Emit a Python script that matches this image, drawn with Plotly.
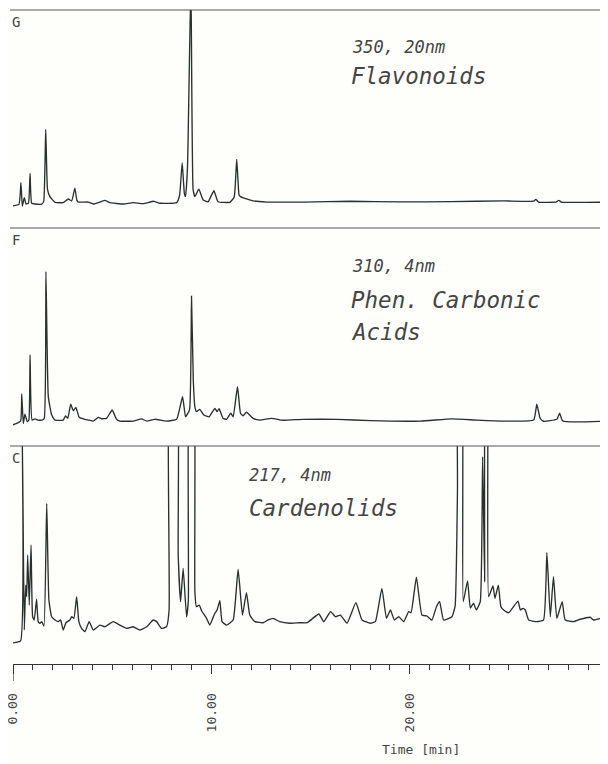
import plotly.graph_objects as go

# ---------------- data (retention time in min, signal in % of full scale) -------------
time_g = [-0.05, 0.30, 0.40, 0.47, 0.57, 0.66, 0.78, 0.86, 0.94, 1.11, 1.45, 1.55, 1.65, 1.74,
          1.86, 2.12, 2.53, 2.79, 2.96, 3.12, 3.22, 3.29, 3.79, 4.05, 4.38, 4.63, 4.89, 5.56,
          6.06, 6.56, 7.10, 7.41, 8.25, 8.40, 8.53, 8.64, 8.70, 8.80, 8.97, 9.08, 9.17, 9.37,
          9.59, 9.84, 10.13, 10.34, 10.93, 11.15, 11.28, 11.40, 11.47, 11.77, 12.11, 12.78,
          13.62, 14.62, 17.01, 19.50, 22.05, 24.74, 26.25, 26.36, 26.50, 27.40, 27.52, 27.65,
          30.00]
signal_g = [-0.5, 0.3, 11.4, -0.5, 3.7, 0.5, 1.0, 16.2, 0.9, 0.5, 0.5, 2.0, 38.8, 8.0,
            4.3, 1.4, 1.2, 3.1, 2.1, 8.6, 2.5, 1.5, 1.5, 0.5, 1.5, 2.4, 1.2, 0.5,
            1.2, 0.7, 1.9, 0.9, 1.2, 5.0, 21.7, 6.0, 4.3, 20.0, 115.0, 8.0, 4.3, 8.1,
            2.6, 1.7, 7.3, 1.7, 1.4, 4.0, 23.4, 5.0, 4.3, 3.1, 2.1, 1.5,
            1.5, 1.5, 1.9, 1.6, 1.7, 2.1, 2.0, 2.9, 1.5, 1.6, 2.4, 1.5,
            1.5]

time_f = [-0.02, 0.38, 0.44, 0.52, 0.60, 0.72, 0.80, 0.86, 0.96, 1.11, 1.27, 1.45, 1.57, 1.66,
          1.78, 1.95, 2.12, 2.53, 2.65, 2.76, 2.91, 3.04, 3.17, 3.34, 3.63, 3.84, 4.05, 4.30,
          4.47, 4.72, 5.00, 5.22, 5.39, 6.06, 6.48, 6.74, 7.15, 7.74, 8.25, 8.55, 8.70, 8.90,
          9.00, 9.09, 9.17, 9.25, 9.42, 9.62, 9.89, 10.18, 10.29, 10.39, 10.59, 10.77, 10.98,
          11.10, 11.32, 11.47, 11.60, 11.77, 12.11, 12.44, 13.03, 13.62, 14.62, 16.34, 18.02,
          20.54, 22.13, 23.39, 24.74, 26.25, 26.41, 26.58, 26.75, 27.42, 27.56, 27.72, 30.00]
signal_f = [-1.0, 1.0, 14.9, -0.2, 4.5, 0.7, 1.5, 34.9, 1.5, 2.1, 1.5, 1.5, 2.1, 77.6,
            13.5, 4.1, 1.5, 1.5, 3.6, 2.4, 9.6, 6.3, 8.0, 2.9, 1.9, 1.5, 1.0, 2.9,
            2.2, 2.4, 6.7, 1.9, 1.0, 1.0, 2.1, 1.0, 1.9, 1.0, 1.9, 13.5, 3.2, 6.7,
            65.1, 22.0, 8.4, 5.8, 7.0, 4.1, 3.2, 7.5, 5.8, 7.3, 2.4, 1.9, 5.0,
            3.2, 18.6, 5.0, 3.7, 5.5, 2.4, 1.5, 2.4, 1.4, 1.9, 1.9, 1.2,
            1.0, 2.1, 1.5, 1.0, 1.5, 9.6, 2.4, 0.9, 1.9, 5.0, 1.0, 1.0]

time_c = [-0.02, 0.38, 0.46, 0.57, 0.64, 0.69, 0.74, 0.82, 0.91, 0.99, 1.07, 1.19, 1.27, 1.36,
          1.45, 1.56, 1.70, 1.81, 1.95, 2.12, 2.28, 2.40, 2.53, 2.67, 2.87, 2.96, 3.07, 3.21,
          3.32, 3.46, 3.63, 3.84, 4.05, 4.38, 4.63, 5.05, 5.39, 5.73, 6.06, 6.40, 6.74, 7.07,
          7.24, 7.49, 7.74, 7.87, 7.93, 8.23, 8.33, 8.45, 8.58, 8.75, 8.84, 8.92, 9.08, 9.17,
          9.25, 9.39, 9.51, 9.76, 9.92, 10.18, 10.29, 10.43, 10.54, 10.77, 11.10, 11.35, 11.57,
          11.77, 11.94, 12.19, 12.61, 12.86, 13.11, 13.45, 13.95, 14.46, 14.83, 15.42, 15.67,
          16.01, 16.26, 16.51, 16.84, 17.29, 17.60, 18.02, 18.27, 18.60, 18.83, 19.03, 19.23,
          19.45, 19.70, 19.95, 20.07, 20.34, 20.62, 20.87, 21.12, 21.35, 21.51, 21.71, 22.13,
          22.29, 22.41, 22.46, 22.60, 22.70, 22.92, 23.06, 23.22, 23.36, 23.56, 23.68, 23.78,
          23.84, 23.90, 23.98, 24.20, 24.30, 24.47, 24.60, 24.74, 24.99, 25.46, 25.58, 25.71,
          25.83, 26.00, 26.41, 26.75, 26.92, 27.09, 27.25, 27.42, 27.69, 27.84, 28.26, 28.60,
          29.10, 29.27, 29.61, 30.00]
signal_c = [-8.2, -7.1, 115.0, -1.1, 23.6, 17.2, 40.1, 12.6, 45.6, 6.2, 4.4, 15.8, 3.5, 2.6,
            3.5, 1.1, 68.5, 15.4, 6.2, 4.4, 3.5, 4.4, -1.1, 2.9, 4.4, 6.2, 5.3, 17.2,
            3.5, -0.2, -2.0, 3.5, -1.1, 1.6, 0.7, 3.5, 1.6, -0.2, 0.7, -1.1, 0.7, 4.4,
            3.5, -0.2, 0.7, 9.9, 160.0, 160.0, 40.0, 14.5, 32.8, 6.2, 15.0, 160.0, 160.0, 20.0,
            11.7, 12.6, 9.5, 5.3, 1.6, 8.1, 9.9, 15.0, 3.5, 1.6, 4.4, 32.3, 7.1,
            19.4, 7.1, 3.5, 2.9, 4.4, 5.3, 3.5, 2.6, 2.9, 2.9, 7.7, 3.5,
            9.0, 6.2, 7.1, 2.6, 13.9, 4.4, 2.6, 3.5, 21.8, 5.3, 9.9, 4.4,
            6.2, 3.5, 9.0, 8.4, 27.9, 7.1, 6.6, 4.4, 11.7, 14.5, 4.4, 6.2,
            12.0, 76.0, 160.0, 160.0, 14.5, 25.8, 11.0, 13.6, 9.9, 14.5, 94.2, 25.4,
            160.0, 160.0, 17.2, 23.1, 16.3, 23.6, 11.7, 9.9, 8.4, 14.8, 9.9, 10.8,
            9.9, 4.4, 3.5, 4.4, 41.4, 6.2, 28.2, 5.3, 14.5, 4.4, 3.5, 4.8,
            5.9, 4.4, 5.3, 6.2]

panel_labels = ["G", "F", "C"]
wavelength_labels = ["350, 20nm", "310, 4nm", "217, 4nm"]
class_labels = ["Flavonoids", "Phen. Carbonic", "Cardenolids"]
class_labels_2 = ["", "Acids", ""]
tick_values = [0, 10, 20, 30]
tick_text = ["0.00", "10.00", "20.00", "30.00"]
x_title = "Time [min]"

# ---------------- layout helpers ----------------
OFF = 8                      # page body margin of the browser
W, H = 608 - OFF, 764 - OFF  # figure size that fills the window
ML = 13 - OFF                # x = 0 min sits at page px 13
LINE = "#29312f"
TXT = "#454545"
MONO = "DejaVu Sans Mono"

# panel geometry in page px: (top line, baseline, domain bottom)
panels = [(10, 205, 218), (228, 423, 437), (446, 628, 648)]


def py(p):
    return 1 - (p - OFF) / H


def px(p):
    return (p - OFF - ML) / (W - ML)


fig = go.Figure()
series = [(time_g, signal_g), (time_f, signal_f), (time_c, signal_c)]
layout_axes = {}
for i, ((t, s), (top, base, bot)) in enumerate(zip(series, panels)):
    yname = "y" if i == 0 else f"y{i + 1}"
    fig.add_trace(go.Scatter(x=t, y=s, mode="lines", xaxis="x", yaxis=yname,
                             line=dict(color=LINE, width=1.35, shape="spline", smoothing=0.4),
                             hoverinfo="skip", showlegend=False))
    k = (base - top) / 100.0
    key = "yaxis" if i == 0 else f"yaxis{i + 1}"
    layout_axes[key] = dict(domain=[py(bot), py(top)], range=[-(bot - base) / k, 100],
                            visible=False, fixedrange=True, automargin=False)
    # top full-scale line
    fig.add_shape(type="line", xref="paper", yref="paper", x0=px(10), x1=1.0,
                  y0=py(top), y1=py(top), line=dict(color="#555555", width=1.1))
    # panel letter
    fig.add_annotation(xref="paper", yref="paper", x=px(10), y=py(top + 12),
                       text=panel_labels[i], showarrow=False, xanchor="left",
                       yanchor="middle", font=dict(family=MONO, size=14, color=TXT))

# descriptive texts
texts = [
    (350, 47, wavelength_labels[0], 17),
    (349, 76, class_labels[0], 22.5),
    (350, 266, wavelength_labels[1], 17),
    (349, 300, class_labels[1], 22.5),
    (349, 332, class_labels_2[1], 22.5),
    (247, 475, wavelength_labels[2], 17),
    (247, 508, class_labels[2], 22.5),
]
for x0, y0, txt, sz in texts:
    fig.add_annotation(xref="paper", yref="paper", x=px(x0), y=py(y0), text=txt,
                       showarrow=False, xanchor="left", yanchor="middle", align="left",
                       font=dict(family=MONO, size=sz, color=TXT, style="italic"))

AXIS_Y = 664
fig.add_shape(type="line", xref="x", yref="paper", x0=0, x1=0, y0=py(AXIS_Y), y1=py(681),
              line=dict(color="#333333", width=1.2))
fig.add_annotation(xref="paper", yref="paper", x=px(421), y=py(749), text=x_title,
                   showarrow=False, xanchor="center", yanchor="middle",
                   font=dict(family=MONO, size=13, color=TXT))

fig.update_layout(
    width=W, height=H,
    margin=dict(l=ML, r=0, t=0, b=0, autoexpand=False),
    paper_bgcolor="#fefefb", plot_bgcolor="rgba(0,0,0,0)",
    xaxis=dict(range=[0, 30], anchor="free", position=py(AXIS_Y), showgrid=False,
               zeroline=False, showline=True, linecolor="#333333", linewidth=1.2,
               ticks="outside", ticklen=9, tickwidth=1.2, tickcolor="#333333",
               tickvals=tick_values, ticktext=tick_text, tickangle=-90,
               ticklabelstandoff=14, ticklabeloverflow="allow", automargin=False,
               tickfont=dict(family=MONO, size=13, color=TXT),
               minor=dict(dtick=1, ticks="outside", ticklen=5, tickwidth=1,
                          tickcolor="#333333", showgrid=False),
               fixedrange=True),
    **layout_axes,
)

fig.write_html("out.html")
